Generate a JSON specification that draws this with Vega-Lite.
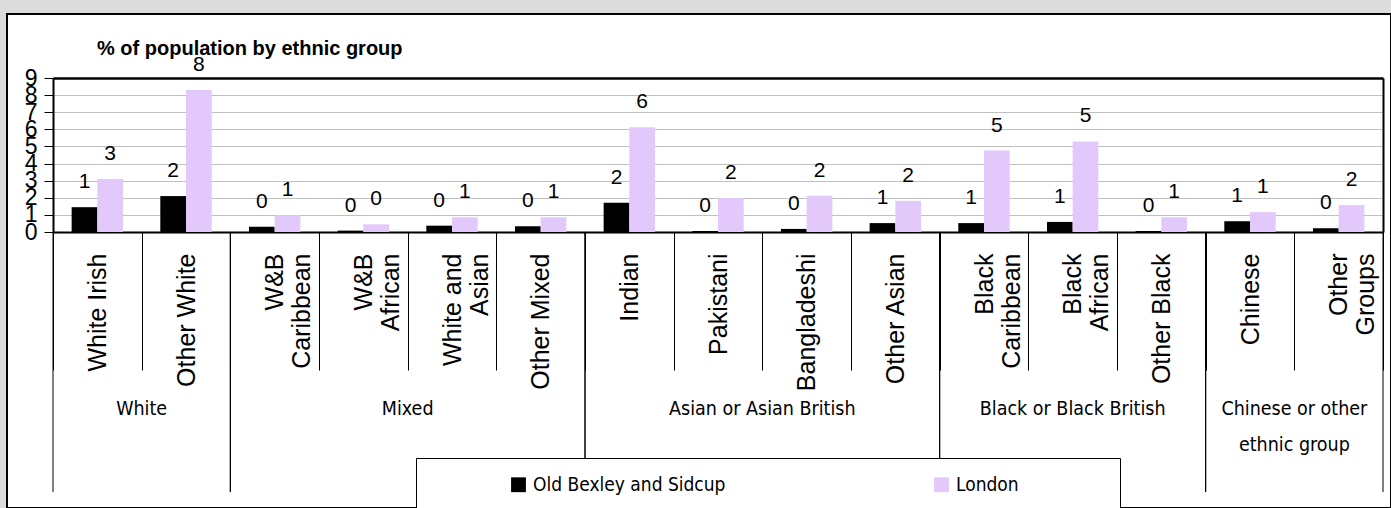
{
  "$schema": "https://vega.github.io/schema/vega-lite/v6.json",
  "width": 1384,
  "height": 494,
  "autosize": "none",
  "padding": {"left": 7, "top": 14, "right": 0, "bottom": 0},
  "background": "#dcdcdc",
  "view": {"fill": "white", "stroke": "black", "strokeWidth": 2},
  "title": {
    "text": "% of population by ethnic group",
    "anchor": "start",
    "frame": "group",
    "dx": 90,
    "offset": -45,
    "fontSize": 20,
    "fontWeight": "bold",
    "font": "Liberation Sans",
    "color": "black"
  },
  "datasets": {
    "bars": [
      {"group": "White", "cat": "White Irish", "series": "Old Bexley and Sidcup", "value": 1.45},
      {"group": "White", "cat": "White Irish", "series": "London", "value": 3.1},
      {"group": "White", "cat": "Other White", "series": "Old Bexley and Sidcup", "value": 2.1},
      {"group": "White", "cat": "Other White", "series": "London", "value": 8.3},
      {"group": "Mixed", "cat": "W&B Caribbean", "series": "Old Bexley and Sidcup", "value": 0.3},
      {"group": "Mixed", "cat": "W&B Caribbean", "series": "London", "value": 0.98},
      {"group": "Mixed", "cat": "W&B African", "series": "Old Bexley and Sidcup", "value": 0.08},
      {"group": "Mixed", "cat": "W&B African", "series": "London", "value": 0.45},
      {"group": "Mixed", "cat": "White and Asian", "series": "Old Bexley and Sidcup", "value": 0.37},
      {"group": "Mixed", "cat": "White and Asian", "series": "London", "value": 0.86},
      {"group": "Mixed", "cat": "Other Mixed", "series": "Old Bexley and Sidcup", "value": 0.33},
      {"group": "Mixed", "cat": "Other Mixed", "series": "London", "value": 0.86},
      {"group": "Asian or Asian British", "cat": "Indian", "series": "Old Bexley and Sidcup", "value": 1.71},
      {"group": "Asian or Asian British", "cat": "Indian", "series": "London", "value": 6.12},
      {"group": "Asian or Asian British", "cat": "Pakistani", "series": "Old Bexley and Sidcup", "value": 0.06},
      {"group": "Asian or Asian British", "cat": "Pakistani", "series": "London", "value": 1.98},
      {"group": "Asian or Asian British", "cat": "Bangladeshi", "series": "Old Bexley and Sidcup", "value": 0.18},
      {"group": "Asian or Asian British", "cat": "Bangladeshi", "series": "London", "value": 2.12},
      {"group": "Asian or Asian British", "cat": "Other Asian", "series": "Old Bexley and Sidcup", "value": 0.52},
      {"group": "Asian or Asian British", "cat": "Other Asian", "series": "London", "value": 1.82},
      {"group": "Black or Black British", "cat": "Black Caribbean", "series": "Old Bexley and Sidcup", "value": 0.52},
      {"group": "Black or Black British", "cat": "Black Caribbean", "series": "London", "value": 4.76},
      {"group": "Black or Black British", "cat": "Black African", "series": "Old Bexley and Sidcup", "value": 0.59},
      {"group": "Black or Black British", "cat": "Black African", "series": "London", "value": 5.29},
      {"group": "Black or Black British", "cat": "Other Black", "series": "Old Bexley and Sidcup", "value": 0.06},
      {"group": "Black or Black British", "cat": "Other Black", "series": "London", "value": 0.86},
      {"group": "Chinese or other ethnic group", "cat": "Chinese", "series": "Old Bexley and Sidcup", "value": 0.63},
      {"group": "Chinese or other ethnic group", "cat": "Chinese", "series": "London", "value": 1.16},
      {"group": "Chinese or other ethnic group", "cat": "Other Groups", "series": "Old Bexley and Sidcup", "value": 0.22},
      {"group": "Chinese or other ethnic group", "cat": "Other Groups", "series": "London", "value": 1.57}
    ],
    "groups": [
      {"group": "White", "first": "White Irish", "last": "Other White", "mid": "Other White"},
      {"group": "Mixed", "first": "W&B Caribbean", "last": "Other Mixed", "mid": "White and Asian"},
      {"group": "Asian or Asian British", "first": "Indian", "last": "Other Asian", "mid": "Bangladeshi"},
      {"group": "Black or Black British", "first": "Black Caribbean", "last": "Other Black", "mid": "Black African"},
      {"group": "Chinese or other\nethnic group", "first": "Chinese", "last": "Other Groups", "mid": "Other Groups"}
    ]
  },
  "layer": [
    {
      "data": {"name": "bars"},
      "mark": {"type": "bar"},
      "encoding": {
        "x": {
          "field": "cat",
          "type": "nominal",
          "scale": {
            "domain": ["White Irish", "Other White", "W&B Caribbean", "W&B African", "White and Asian", "Other Mixed", "Indian", "Pakistani", "Bangladeshi", "Other Asian", "Black Caribbean", "Black African", "Other Black", "Chinese", "Other Groups"],
            "range": [46, 1376],
            "paddingInner": 0,
            "paddingOuter": 0
          },
          "axis": {
            "orient": "bottom",
            "offset": -276,
            "title": null,
            "grid": false,
            "domainColor": "black",
            "domainWidth": 2,
            "tickColor": "black",
            "tickWidth": 1,
            "tickSize": 138,
            "tickBand": "extent",
            "labelAngle": 270,
            "labelAlign": "right",
            "labelBaseline": "middle",
            "labelPadding": -117,
            "labelFontSize": 25,
            "labelFont": "Liberation Sans",
            "labelColor": "black",
            "labelLineHeight": 27,
            "labelOverlap": false,
            "labelLimit": 0,
            "labelExpr": "datum.label == 'White and Asian' ? ['White and', 'Asian'] : indexof(['W&B Caribbean', 'W&B African', 'Black Caribbean', 'Black African', 'Other Groups'], datum.label) >= 0 ? split(datum.label, ' ') : datum.label"
          }
        },
        "xOffset": {
          "field": "series",
          "type": "nominal",
          "scale": {"domain": ["Old Bexley and Sidcup", "London"], "paddingInner": 0, "paddingOuter": 0.725}
        },
        "y": {
          "field": "value",
          "type": "quantitative",
          "scale": {"domain": [0, 9], "range": [218, 64], "nice": false},
          "axis": {
            "orient": "left",
            "offset": -46,
            "title": null,
            "values": [0, 1, 2, 3, 4, 5, 6, 7, 8, 9],
            "grid": true,
            "gridColor": "#c0c0c0",
            "gridWidth": 1,
            "domainColor": "black",
            "domainWidth": 2,
            "tickColor": "black",
            "tickSize": 9,
            "labelFontSize": 23,
            "labelFont": "Liberation Sans",
            "labelPadding": 7,
            "labelColor": "black",
            "labelOverlap": false
          }
        },
        "color": {
          "field": "series",
          "type": "nominal",
          "scale": {"domain": ["Old Bexley and Sidcup", "London"], "range": ["#000000", "#e3c8fc"]},
          "legend": {
            "orient": "none",
            "legendX": 409,
            "legendY": 444,
            "direction": "horizontal",
            "title": " ",
            "titleOrient": "right",
            "titlePadding": 84,
            "titleFontSize": 4,
            "fillColor": "white",
            "strokeColor": "black",
            "padding": 17,
            "symbolType": "square",
            "symbolSize": 220,
            "symbolStrokeWidth": 0,
            "symbolOffset": 76,
            "columnPadding": 130,
            "labelOffset": 5,
            "labelLimit": 0,
            "labelFontSize": 19,
            "labelFont": "DejaVu Sans Condensed, Liberation Sans",
            "labelColor": "black"
          }
        }
      }
    },
    {
      "data": {"name": "bars"},
      "mark": {"type": "text", "baseline": "alphabetic", "dy": -19, "fontSize": 21, "font": "Liberation Sans", "color": "black"},
      "encoding": {
        "x": {
          "field": "cat",
          "type": "nominal",
          "axis": {"orient": "top", "offset": -64, "title": null, "labels": false, "ticks": false, "grid": false, "domainColor": "black", "domainWidth": 2.5}
        },
        "xOffset": {"field": "series", "type": "nominal"},
        "y": {
          "field": "value",
          "type": "quantitative",
          "axis": {"orient": "right", "offset": -8, "title": null, "labels": false, "ticks": false, "grid": false, "domainColor": "black", "domainWidth": 2}
        },
        "text": {"field": "value", "type": "quantitative", "format": ".0f"}
      }
    },
    {
      "data": {"name": "groups"},
      "mark": {"type": "rule", "color": "black", "strokeWidth": 1},
      "encoding": {
        "x": {"field": "first", "type": "nominal", "bandPosition": 0, "axis": null},
        "y": {"datum": 0, "type": "quantitative", "axis": null},
        "y2": {"datum": -15.2}
      }
    },
    {
      "data": {"name": "groups"},
      "mark": {"type": "rule", "color": "black", "strokeWidth": 1},
      "encoding": {
        "x": {"field": "last", "type": "nominal", "bandPosition": 1, "axis": null},
        "y": {"datum": 0, "type": "quantitative", "axis": null},
        "y2": {"datum": -15.2}
      }
    },
    {
      "data": {"name": "groups"},
      "transform": [{"filter": "datum.group != 'Black or Black British'"}],
      "mark": {"type": "text", "baseline": "top", "fontSize": 19.5, "font": "DejaVu Sans Condensed, Liberation Sans", "lineBreak": "\n", "lineHeight": 36, "color": "black"},
      "encoding": {
        "x": {"field": "mid", "type": "nominal", "bandPosition": 0, "axis": null},
        "y": {"datum": -9.8, "type": "quantitative", "axis": null},
        "text": {"field": "group"}
      }
    },
    {
      "data": {"name": "groups"},
      "transform": [{"filter": "datum.group == 'Black or Black British'"}],
      "mark": {"type": "text", "baseline": "top", "fontSize": 19.5, "font": "DejaVu Sans Condensed, Liberation Sans", "lineBreak": "\n", "lineHeight": 36, "color": "black"},
      "encoding": {
        "x": {"field": "mid", "type": "nominal", "bandPosition": 0.5, "axis": null},
        "y": {"datum": -9.8, "type": "quantitative", "axis": null},
        "text": {"field": "group"}
      }
    }
  ],
  "resolve": {"axis": {"x": "independent", "y": "independent"}}
}
